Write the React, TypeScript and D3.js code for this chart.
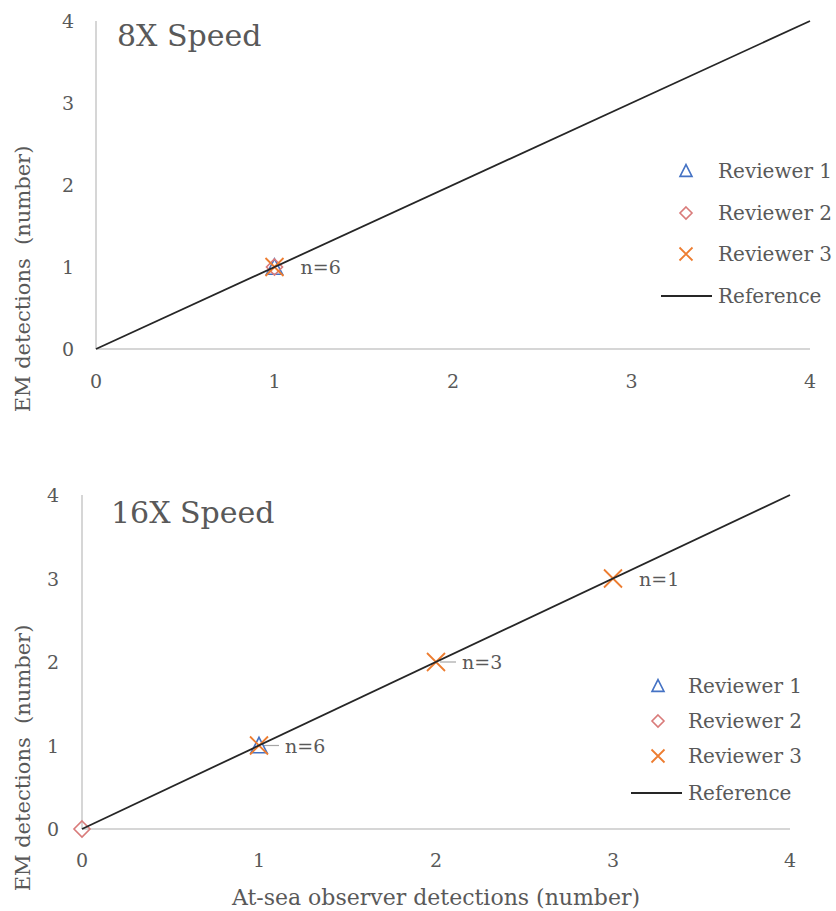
import React from "react";
import * as d3 from "d3";

// ---- Data ----
const ticks = [0, 1, 2, 3, 4];
const seriesNames = ["Reviewer 1", "Reviewer 2", "Reviewer 3"];
const referenceLine: [number, number][] = [[0, 0], [4, 4]];

const speed8Title = "8X Speed";
const speed8R1: [number, number][] = [[1, 1]];
const speed8R2: [number, number][] = [[1, 1]];
const speed8R3: [number, number][] = [[1, 1]];
const speed8Labels = [{ x: 1, y: 1, text: "n=6", leader: false }];

const speed16Title = "16X Speed";
const speed16R1: [number, number][] = [[1, 1]];
const speed16R2: [number, number][] = [[0, 0]];
const speed16R3: [number, number][] = [[1, 1], [2, 2], [3, 3]];
const speed16Labels = [
  { x: 1, y: 1, text: "n=6", leader: true },
  { x: 2, y: 2, text: "n=3", leader: true },
  { x: 3, y: 3, text: "n=1", leader: false },
];

const yTitle = "EM detections\u00a0\u00a0(number)";
const xTitle = "At-sea observer detections (number)";

// ---- Style ----
const FONT = "'DejaVu Serif', serif";
const TEXT = "#595959";
const AXIS = "#c8c8c8";
const C1 = "#4472C4";
const C2 = "#D97B7A";
const C3 = "#ED7D31";

function Marker({ kind, x, y, s }: { kind: number; x: number; y: number; s: number }) {
  if (kind === 0) {
    const h = s * 0.9;
    return (
      <path
        d={`M${x},${y - h / 2 - 1}L${x + s / 2},${y + h / 2}L${x - s / 2},${y + h / 2}Z`}
        fill="none"
        stroke={C1}
        strokeWidth={1.6}
      />
    );
  }
  if (kind === 1) {
    const r = s / 2;
    return (
      <path
        d={`M${x},${y - r}L${x + r},${y}L${x},${y + r}L${x - r},${y}Z`}
        fill="none"
        stroke={C2}
        strokeWidth={1.6}
      />
    );
  }
  const r = s / 2;
  return (
    <path
      d={`M${x - r},${y - r}L${x + r},${y + r}M${x + r},${y - r}L${x - r},${y + r}`}
      fill="none"
      stroke={C3}
      strokeWidth={1.8}
    />
  );
}

type PanelProps = {
  title: string;
  titlePos: [number, number];
  xr: [number, number];
  yr: [number, number];
  series: [number, number][][];
  labels: { x: number; y: number; text: string; leader: boolean }[];
  yTickX: number;
  xTickY: number;
  yTitlePos: [number, number];
  legendX: number;
  legendTextX: number;
  legendRows: number[];
  legendLine: [number, number];
  showXTitle: boolean;
};

function Panel(p: PanelProps) {
  const x = d3.scaleLinear().domain([0, 4]).range(p.xr);
  const y = d3.scaleLinear().domain([0, 4]).range(p.yr);
  const line = d3
    .line<[number, number]>()
    .x((d) => x(d[0]))
    .y((d) => y(d[1]));
  return (
    <g>
      {/* axes */}
      <line x1={x(0)} x2={x(4)} y1={y(0)} y2={y(0)} stroke={AXIS} strokeWidth={1.5} />
      <line x1={x(0)} x2={x(0)} y1={y(0)} y2={y(4)} stroke={AXIS} strokeWidth={1.5} />
      {ticks.map((t) => (
        <text
          key={"xt" + t}
          x={x(t)}
          y={p.xTickY}
          textAnchor="middle"
          dominantBaseline="central"
          fontFamily={FONT}
          fontSize={19}
          fill={TEXT}
        >
          {t}
        </text>
      ))}
      {ticks.map((t) => (
        <text
          key={"yt" + t}
          x={p.yTickX}
          y={y(t)}
          textAnchor="middle"
          dominantBaseline="central"
          fontFamily={FONT}
          fontSize={19}
          fill={TEXT}
        >
          {t}
        </text>
      ))}
      <text
        transform={`translate(${p.yTitlePos[0]},${p.yTitlePos[1]}) rotate(-90)`}
        textAnchor="middle"
        dominantBaseline="central"
        fontFamily={FONT}
        fontSize={21}
        fill={TEXT}
      >
        {yTitle}
      </text>
      {p.showXTitle && (
        <text
          x={(x(0) + x(4)) / 2}
          y={897}
          textAnchor="middle"
          dominantBaseline="central"
          fontFamily={FONT}
          fontSize={22}
          fill={TEXT}
        >
          {xTitle}
        </text>
      )}
      <text x={p.titlePos[0]} y={p.titlePos[1]} fontFamily={FONT} fontSize={30} fill={TEXT}>
        {p.title}
      </text>
      {/* leaders */}
      {p.labels
        .filter((l) => l.leader)
        .map((l, i) => (
          <line
            key={"ld" + i}
            x1={x(l.x) + 4}
            x2={x(l.x) + 20}
            y1={y(l.y)}
            y2={y(l.y)}
            stroke="#a6a6a6"
            strokeWidth={1.2}
          />
        ))}
      {/* markers */}
      {p.series.map((s, k) =>
        s.map((d, i) => <Marker key={k + "-" + i} kind={k} x={x(d[0])} y={y(d[1])} s={k === 2 ? 18 : 16} />)
      )}
      <path d={line(referenceLine) || ""} stroke="#262626" strokeWidth={1.8} fill="none" />
      {p.labels.map((l, i) => (
        <text
          key={"lb" + i}
          x={x(l.x) + 26}
          y={y(l.y)}
          dominantBaseline="central"
          fontFamily={FONT}
          fontSize={19}
          fill={TEXT}
        >
          {l.text}
        </text>
      ))}
      {/* legend */}
      {seriesNames.map((n, k) => (
        <g key={"lg" + k}>
          <Marker kind={k} x={p.legendX} y={p.legendRows[k]} s={k === 2 ? 13 : 12} />
          <text
            x={p.legendTextX}
            y={p.legendRows[k]}
            dominantBaseline="central"
            fontFamily={FONT}
            fontSize={20}
            fill={TEXT}
          >
            {n}
          </text>
        </g>
      ))}
      <line
        x1={p.legendLine[0]}
        x2={p.legendLine[1]}
        y1={p.legendRows[3]}
        y2={p.legendRows[3]}
        stroke="#262626"
        strokeWidth={1.8}
      />
      <text
        x={p.legendTextX}
        y={p.legendRows[3]}
        dominantBaseline="central"
        fontFamily={FONT}
        fontSize={20}
        fill={TEXT}
      >
        Reference
      </text>
    </g>
  );
}

export default function App() {
  return (
    <svg
      width={836}
      height={911}
      style={{ position: "absolute", left: 0, top: 0, background: "#fff" }}
    >
      <rect width={836} height={911} fill="#fff" />
      <Panel
        title={speed8Title}
        titlePos={[117, 46]}
        xr={[96, 810]}
        yr={[349, 21]}
        series={[speed8R1, speed8R2, speed8R3]}
        labels={speed8Labels}
        yTickX={68}
        xTickY={381}
        yTitlePos={[23, 279]}
        legendX={686}
        legendTextX={718}
        legendRows={[171, 213, 254, 296]}
        legendLine={[661, 712]}
        showXTitle={false}
      />
      <Panel
        title={speed16Title}
        titlePos={[111, 523]}
        xr={[82, 790]}
        yr={[829, 495]}
        series={[speed16R1, speed16R2, speed16R3]}
        labels={speed16Labels}
        yTickX={53}
        xTickY={860}
        yTitlePos={[23, 758]}
        legendX={658}
        legendTextX={688}
        legendRows={[686, 721, 756, 793]}
        legendLine={[631, 682]}
        showXTitle={true}
      />
    </svg>
  );
}
